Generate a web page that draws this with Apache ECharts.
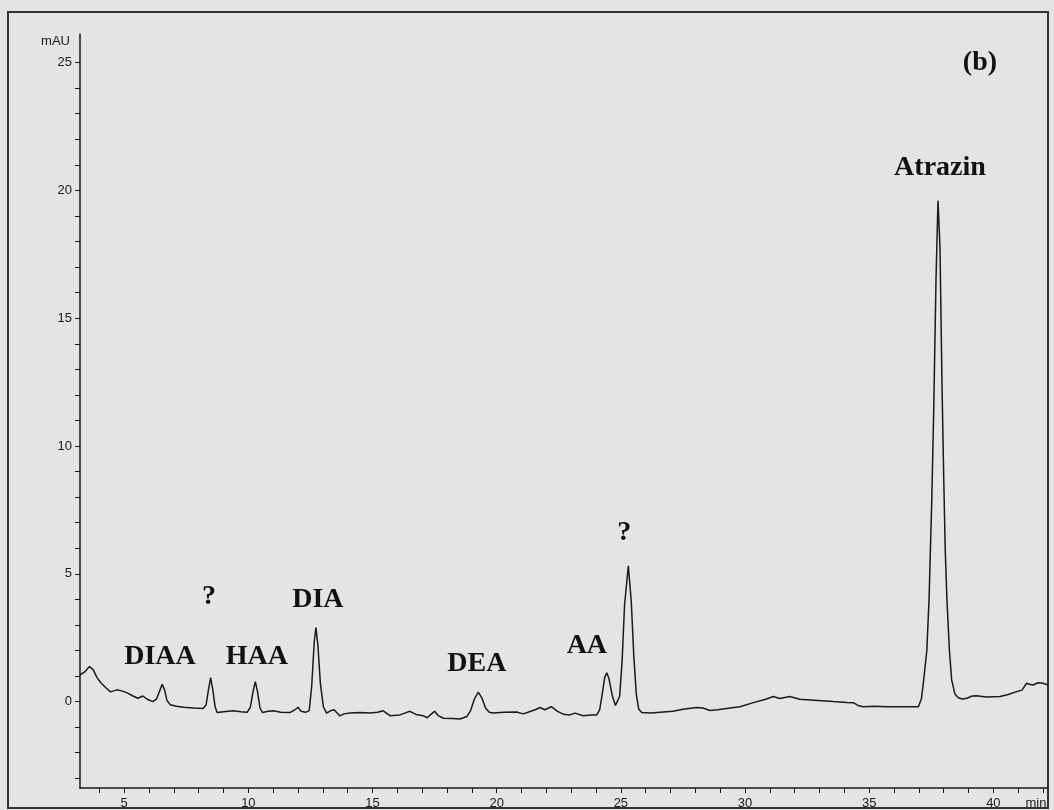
<!DOCTYPE html>
<html>
<head>
<meta charset="utf-8">
<script src="https://cdn.jsdelivr.net/npm/echarts@6/dist/echarts.min.js"></script>
<style>
html,body{margin:0;padding:0;background:#e4e4e4;}
#chart{width:1054px;height:810px;}
</style>
</head>
<body>
<div id="chart"></div>
<script>
// retention time (min)
const times = [3.22,3.40,3.60,3.75,3.90,4.05,4.25,4.45,4.70,4.90,5.10,5.35,5.55,5.75,5.95,6.15,6.30,6.42,6.53,6.63,6.72,6.85,7.10,7.40,7.80,8.18,8.30,8.39,8.48,8.57,8.66,8.74,9.00,9.39,9.70,9.95,10.08,10.19,10.28,10.37,10.47,10.57,10.80,11.00,11.30,11.67,11.90,12.00,12.12,12.30,12.45,12.55,12.65,12.72,12.80,12.90,13.02,13.15,13.30,13.45,13.69,13.85,14.09,14.50,14.90,15.20,15.43,15.70,16.10,16.30,16.50,16.75,17.04,17.20,17.35,17.50,17.65,17.85,18.20,18.52,18.80,18.95,19.10,19.26,19.40,19.55,19.70,19.86,20.30,20.80,21.07,21.34,21.60,21.74,21.94,22.20,22.45,22.68,22.95,23.15,23.48,23.80,24.03,24.15,24.25,24.35,24.43,24.52,24.65,24.78,24.86,24.95,25.05,25.15,25.30,25.42,25.52,25.62,25.72,25.84,26.20,26.71,27.10,27.50,28.05,28.30,28.59,28.90,29.40,29.80,30.30,30.80,31.14,31.40,31.80,32.20,32.80,33.55,34.10,34.36,34.55,34.76,35.20,35.70,36.40,36.98,37.10,37.18,37.32,37.41,37.52,37.60,37.69,37.77,37.85,37.93,38.00,38.06,38.13,38.23,38.32,38.45,38.59,38.75,38.93,39.15,39.33,39.70,40.27,40.60,40.94,41.15,41.34,41.45,41.60,41.80,42.00,42.20];
// absorbance (mAU)
const signal = [1.05,1.15,1.37,1.25,0.95,0.75,0.55,0.38,0.46,0.42,0.35,0.22,0.13,0.22,0.08,0.00,0.10,0.40,0.68,0.45,0.05,-0.12,-0.18,-0.22,-0.25,-0.27,-0.12,0.45,0.94,0.45,-0.20,-0.43,-0.40,-0.36,-0.40,-0.42,-0.22,0.40,0.78,0.38,-0.25,-0.43,-0.38,-0.36,-0.42,-0.43,-0.30,-0.22,-0.38,-0.42,-0.35,0.60,2.30,2.90,2.20,0.70,-0.20,-0.45,-0.36,-0.32,-0.56,-0.48,-0.45,-0.43,-0.45,-0.42,-0.36,-0.55,-0.52,-0.45,-0.38,-0.50,-0.55,-0.63,-0.50,-0.38,-0.55,-0.65,-0.66,-0.68,-0.58,-0.35,0.10,0.37,0.15,-0.25,-0.42,-0.45,-0.42,-0.41,-0.48,-0.39,-0.30,-0.23,-0.32,-0.20,-0.38,-0.49,-0.52,-0.45,-0.55,-0.52,-0.52,-0.30,0.30,0.95,1.13,0.90,0.25,-0.15,-0.22,0.20,1.60,3.80,5.31,3.90,1.80,0.30,-0.30,-0.43,-0.45,-0.41,-0.38,-0.30,-0.23,-0.25,-0.35,-0.32,-0.25,-0.20,-0.05,0.08,0.20,0.12,0.20,0.09,0.05,0.00,-0.03,-0.04,-0.15,-0.20,-0.18,-0.20,-0.20,-0.20,0.10,0.72,2.00,4.00,7.90,11.50,16.50,19.60,17.80,12.50,8.80,6.00,4.00,2.00,0.85,0.30,0.15,0.10,0.13,0.22,0.23,0.18,0.20,0.28,0.39,0.45,0.72,0.68,0.65,0.74,0.72,0.65];

// peak annotations (label centre in data coordinates)
const peakNames = ['DIAA','?','HAA','DIA','DEA','AA','?','Atrazin','(b)'];
const peakLabelT = [6.44,8.41,10.34,12.80,19.20,23.63,25.14,37.85,39.46];
const peakLabelV = [1.75,4.10,1.75,4.00,1.48,2.20,6.62,20.90,25.00];

const xTickValues = [4,5,6,7,8,9,10,11,12,13,14,15,16,17,18,19,20,21,22,23,24,25,26,27,28,29,30,31,32,33,34,35,36,37,38,39,40,41,42];
const xLabelValues = [5,10,15,20,25,30,35,40];
const yTickValues = [-3,-2,-1,0,1,2,3,4,5,6,7,8,9,10,11,12,13,14,15,16,17,18,19,20,21,22,23,24,25];
const yLabelValues = [0,5,10,15,20,25];

const ink = '#1a1a1a';
const chart = echarts.init(document.getElementById('chart'), null, {renderer:'canvas'});
const lineData = times.map((t,i)=>[t, signal[i]]);
const annData = peakNames.map((n,i)=>({value:[peakLabelT[i], peakLabelV[i]], name:n}));

chart.setOption({
  backgroundColor:'#e4e4e4',
  animation:false,
  grid:{left:80, right:6, top:34, bottom:22, containLabel:false},
  xAxis:{
    type:'value', min:3.22, max:42.2,
    axisLine:{show:true, onZero:false, lineStyle:{color:ink, width:1.5}},
    axisTick:{show:true, inside:false, length:5, customValues:xTickValues, lineStyle:{color:ink, width:1}},
    axisLabel:{show:true, margin:9, customValues:xLabelValues, color:ink, fontFamily:'Liberation Sans, Arial, sans-serif', fontSize:13},
    splitLine:{show:false}
  },
  yAxis:{
    type:'value', min:-3.38, max:26.12,
    axisLine:{show:true, onZero:false, lineStyle:{color:ink, width:1.5}},
    axisTick:{show:true, inside:false, length:5, customValues:yTickValues, lineStyle:{color:ink, width:1}},
    axisLabel:{show:true, margin:8, customValues:yLabelValues, color:ink, fontFamily:'Liberation Sans, Arial, sans-serif', fontSize:13},
    splitLine:{show:false}
  },
  series:[
    {
      type:'line', data:lineData, showSymbol:false, symbol:'none', smooth:false,
      lineStyle:{color:'#1a1a1a', width:1.5}, z:3
    },
    {
      type:'scatter', data:annData, symbolSize:0, silent:true,
      itemStyle:{opacity:1, color:'rgba(0,0,0,0)'},
      label:{show:true, position:'inside', formatter:'{b}', color:'#111', opacity:1,
        fontFamily:'Liberation Serif, Times New Roman, serif', fontWeight:'bold', fontSize:28}
    }
  ],
  graphic:[
    {type:'rect', shape:{x:8, y:12, width:1040, height:796}, style:{fill:'none', stroke:'#333', lineWidth:2}, silent:true, z:-1},
    {type:'text', x:70, y:41, style:{text:'mAU', fill:ink, font:'13px "Liberation Sans", Arial, sans-serif', textAlign:'right', textVerticalAlign:'middle'}},
    {type:'text', x:1036, y:803, style:{text:'min', fill:ink, font:'13px "Liberation Sans", Arial, sans-serif', textAlign:'center', textVerticalAlign:'middle'}}
  ]
});
</script>
</body>
</html>
